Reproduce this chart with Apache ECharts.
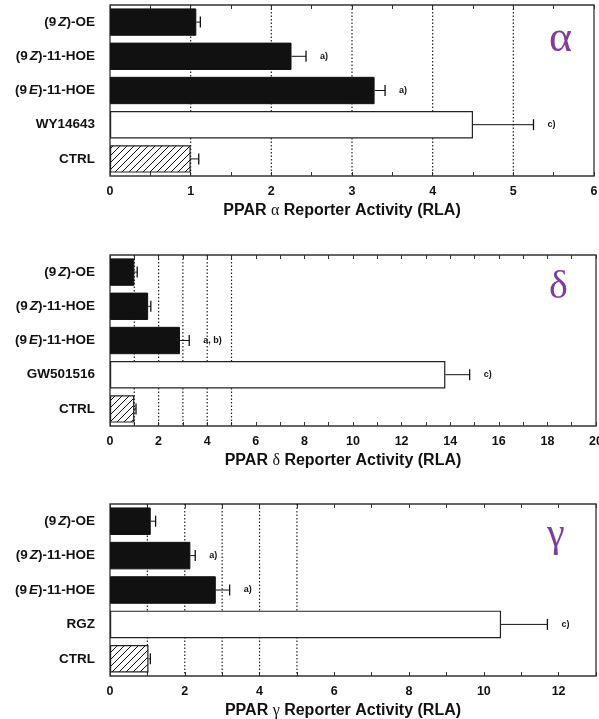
<!DOCTYPE html>
<html>
<head>
<meta charset="utf-8">
<script src="https://cdn.jsdelivr.net/npm/echarts@6/dist/echarts.min.js"></script>
<style>html,body{margin:0;padding:0;background:#fff;}#c{width:599px;height:719px;}</style>
</head>
<body>
<div id="c"></div>
<script>
// ---- data ----
const alphaCategories = ['(9Z)-OE', '(9Z)-11-HOE', '(9E)-11-HOE', 'WY14643', 'CTRL'];
const deltaCategories = ['(9Z)-OE', '(9Z)-11-HOE', '(9E)-11-HOE', 'GW501516', 'CTRL'];
const gammaCategories = ['(9Z)-OE', '(9Z)-11-HOE', '(9E)-11-HOE', 'RGZ', 'CTRL'];

const alphaValues = [1.07, 2.25, 3.28, 4.50, 1.00];
const alphaErrors = [0.05, 0.18, 0.13, 0.75, 0.10];
const alphaNotes  = ['', 'a)', 'a)', 'c)', ''];

const deltaValues = [1.00, 1.57, 2.88, 13.8, 1.00];
const deltaErrors = [0.12, 0.11, 0.38, 1.00, 0.07];
const deltaNotes  = ['', '', 'a, b)', 'c)', ''];

const gammaValues = [1.09, 2.15, 2.83, 10.46, 1.03];
const gammaErrors = [0.13, 0.13, 0.37, 1.24, 0.05];
const gammaNotes  = ['', 'a)', 'a)', 'c)', ''];

const alphaTickLabels = [0, 1, 2, 3, 4, 5, 6];
const deltaTickLabels = [0, 2, 4, 6, 8, 10, 12, 14, 16, 18, 20];
const gammaTickLabels = [0, 2, 4, 6, 8, 10, 12];

const dottedValues = [1, 2, 3, 4, 5];

// ---- styles ----
const barKinds = ['solid', 'solid', 'solid', 'open', 'hatch'];
const purple = '#7f3f98';
const fontFam = '"Liberation Sans", Arial, Helvetica, sans-serif';

function makeHatch() {
  const s = 7;
  const cv = document.createElement('canvas');
  cv.width = s; cv.height = s;
  const g = cv.getContext('2d');
  g.fillStyle = '#fff'; g.fillRect(0, 0, s, s);
  g.strokeStyle = '#111'; g.lineWidth = 1;
  g.beginPath();
  g.moveTo(0, s); g.lineTo(s, 0);
  g.moveTo(-1, 1); g.lineTo(1, -1);
  g.moveTo(s - 1, s + 1); g.lineTo(s + 1, s - 1);
  g.stroke();
  return cv;
}
const hatch = makeHatch();

const panels = [
  { cats: alphaCategories, vals: alphaValues, errs: alphaErrors, notes: alphaNotes, max: 6, step: 0.5, labels: alphaTickLabels, greek: 'α',
    grid: { left: 110, top: 5, width: 484, height: 171 }, gpos: [549, 39], gsize: 44 },
  { cats: deltaCategories, vals: deltaValues, errs: deltaErrors, notes: deltaNotes, max: 20, step: 1, labels: deltaTickLabels, greek: 'δ',
    grid: { left: 110, top: 255, width: 486, height: 171 }, gpos: [549, 287], gsize: 40 },
  { cats: gammaCategories, vals: gammaValues, errs: gammaErrors, notes: gammaNotes, max: 13, step: 1, labels: gammaTickLabels, greek: 'γ',
    grid: { left: 110, top: 504, width: 486, height: 172 }, gpos: [547, 535], gsize: 40 }
];

function catFormatter(s) {
  const m = s.match(/^\(9([ZE])\)(.*)$/);
  if (m) return '{n|(9}{i|' + m[1] + '}{n|)' + m[2] + '}';
  return '{n|' + s + '}';
}

const grids = [], xAxes = [], yAxes = [], series = [], graphics = [];

panels.forEach((p, k) => {
  grids.push(Object.assign({ show: true, borderColor: '#333', borderWidth: 1.3, backgroundColor: 'transparent',
    containLabel: false, outerBoundsMode: 'none' }, p.grid));
  const common = { type: 'value', gridIndex: k, min: 0, max: p.max, interval: p.step, splitLine: { show: false } };
  xAxes.push(Object.assign({}, common, {
    position: 'bottom',
    axisLine: { show: false },
    axisTick: { show: true, inside: true, length: 4, lineStyle: { color: '#333', width: 1 } },
    axisLabel: {
      margin: 9, color: '#111', fontSize: 12.5, fontWeight: 'bold', fontFamily: fontFam, showMaxLabel: true, hideOverlap: false,
      formatter: v => (p.labels.indexOf(Math.round(v * 100) / 100) >= 0 ? String(Math.round(v)) : '')
    },
    name: '{n|PPAR }{g|' + p.greek + '}{n| Reporter Activity (RLA)}',
    nameLocation: 'middle', nameGap: 27,
    nameTextStyle: {
      padding: [0, 20, 0, 0],
      rich: {
        n: { fontSize: 16, fontWeight: 'bold', fontFamily: fontFam, color: '#111' },
        g: { fontSize: 16, fontFamily: '"Liberation Serif", "DejaVu Serif", serif', color: '#111' }
      }
    }
  }));
  xAxes.push(Object.assign({}, common, {
    position: 'top',
    axisLine: { show: false },
    axisTick: { show: true, inside: true, length: 4, lineStyle: { color: '#333', width: 1 } },
    axisLabel: { show: false }
  }));
  yAxes.push({
    type: 'category', gridIndex: k, data: p.cats, inverse: true,
    axisLine: { show: false },
    axisTick: { show: false },
    splitLine: { show: false },
    axisLabel: {
      margin: 15,
      formatter: catFormatter,
      rich: {
        n: { fontSize: 13.5, fontWeight: 'bold', fontFamily: fontFam, color: '#111' },
        i: { fontSize: 13.5, fontWeight: 'bold', fontStyle: 'italic', fontFamily: fontFam, color: '#111', padding: [0, 0, 0, 2] }
      }
    }
  });
  const xi = k * 2;
  series.push({
    type: 'custom', xAxisIndex: xi, yAxisIndex: k, z: 1, silent: true,
    data: dottedValues.map(v => [v]),
    encode: { x: 0 },
    renderItem: function (params, api) {
      const cs = params.coordSys;
      const x = api.coord([api.value(0), 0])[0];
      return {
        type: 'line',
        shape: { x1: x, y1: cs.y, x2: x, y2: cs.y + cs.height },
        style: { stroke: '#222', lineWidth: 1.2, lineDash: [1.5, 2] }
      };
    }
  });
  series.push({
    type: 'bar', xAxisIndex: xi, yAxisIndex: k, z: 3, barWidth: '80%', silent: true,
    data: p.vals.map((v, i) => {
      const kind = barKinds[i];
      let style;
      if (kind === 'solid') style = { color: '#111', borderColor: '#111', borderWidth: 1 };
      else if (kind === 'open') style = { color: '#fff', borderColor: '#222', borderWidth: 1.2 };
      else style = { color: { image: hatch, repeat: 'repeat' }, borderColor: '#222', borderWidth: 1.2 };
      return { value: v, itemStyle: style };
    })
  });
  series.push({
    type: 'custom', xAxisIndex: xi, yAxisIndex: k, z: 4, silent: true,
    data: p.vals.map((v, i) => [i, v, v + p.errs[i]]),
    encode: { x: [1, 2], y: 0 },
    renderItem: function (params, api) {
      const ci = api.value(0);
      const a = api.coord([api.value(1), ci]);
      const b = api.coord([api.value(2), ci]);
      const note = p.notes[params.dataIndex];
      const children = [
        { type: 'line', shape: { x1: a[0], y1: a[1], x2: b[0], y2: b[1] }, style: { stroke: '#111', lineWidth: 1 } },
        { type: 'line', shape: { x1: b[0], y1: b[1] - 5.5, x2: b[0], y2: b[1] + 5.5 }, style: { stroke: '#111', lineWidth: 1.3 } }
      ];
      if (note) {
        children.push({ type: 'text', style: { x: b[0] + 14, y: b[1], text: note, fill: '#111', font: 'bold 9px ' + fontFam, verticalAlign: 'middle', align: 'left' } });
      }
      return { type: 'group', children: children };
    }
  });
  graphics.push({
    type: 'text', left: p.gpos[0], top: p.gpos[1] - p.gsize / 2,
    style: { text: p.greek, fill: purple, font: p.gsize + 'px "Liberation Serif", "DejaVu Serif", serif' }
  });
});

const chart = echarts.init(document.getElementById('c'), null, { renderer: 'canvas' });
chart.setOption({
  animation: false,
  backgroundColor: '#fff',
  grid: grids,
  xAxis: xAxes,
  yAxis: yAxes,
  series: series,
  graphic: graphics
});
</script>
</body>
</html>
